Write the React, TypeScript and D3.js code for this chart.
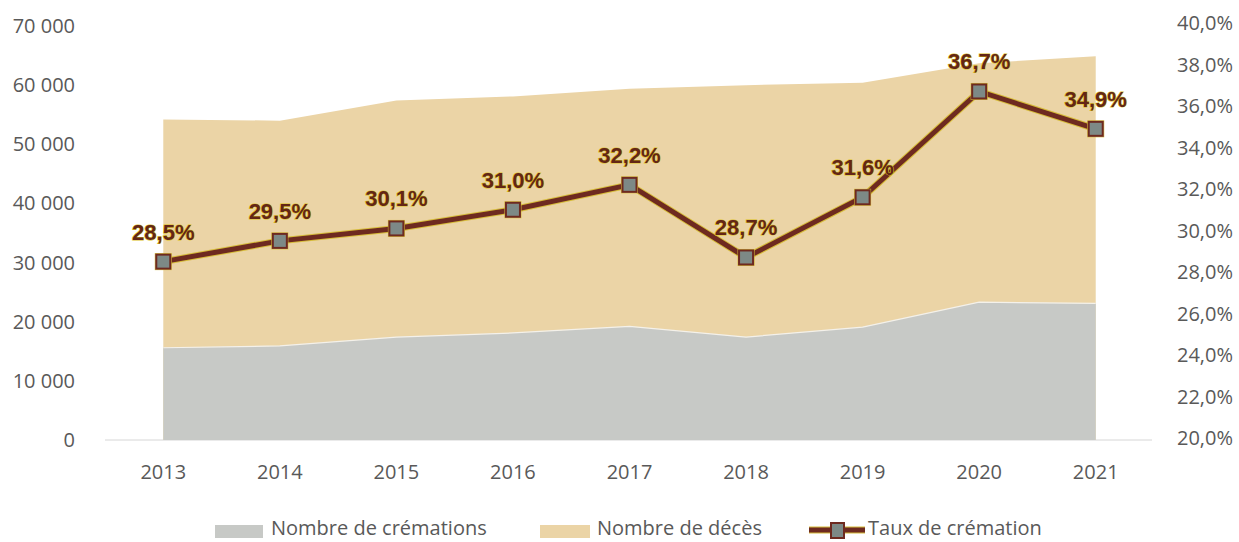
import React from "react";
import * as d3 from "d3";

const years = ["2013", "2014", "2015", "2016", "2017", "2018", "2019", "2020", "2021"];
const cremations = [15600, 15900, 17400, 18100, 19200, 17400, 19100, 23300, 23100];
const deces = [54200, 54000, 57400, 58100, 59400, 60000, 60400, 63700, 64900];
const taux = [28.5, 29.5, 30.1, 31.0, 32.2, 28.7, 31.6, 36.7, 34.9];
const leftTicks = [0, 10000, 20000, 30000, 40000, 50000, 60000, 70000];
const rightTicks = [20, 22, 24, 26, 28, 30, 32, 34, 36, 38, 40];
const legendLabels = ["Nombre de crémations", "Nombre de décès", "Taux de crémation"];

const W = 1239;
const H = 542;
const axisFont = "'Open Sans', sans-serif";
const TAN = "#ebd4a6";
const GREY = "#c7c9c6";
const MAROON = "#6e2a20";
const HALO = "#d6bc3a";

const fmtThousands = (v: number) => d3.format(",")(v).replace(/,/g, " ");
const fmtPct = (v: number) => v.toFixed(1).replace(".", ",") + "%";

export default function App() {
  const x = d3.scalePoint<string>().domain(years).range([105, 1154]).padding(0.5);
  const yL = d3.scaleLinear().domain([0, 70000]).range([440, 26]);
  const yR = d3.scaleLinear().domain([20, 40]).range([438, 23]);

  const idx = years.map((_, i) => i);
  const areaDeces = d3
    .area<number>()
    .x((i) => x(years[i])!)
    .y0(yL(0))
    .y1((i) => yL(deces[i]));
  const areaCrem = d3
    .area<number>()
    .x((i) => x(years[i])!)
    .y0(yL(0))
    .y1((i) => yL(cremations[i]));
  const cremTop = d3
    .line<number>()
    .x((i) => x(years[i])!)
    .y((i) => yL(cremations[i]));
  const rateLine = d3
    .line<number>()
    .x((i) => x(years[i])!)
    .y((i) => yR(taux[i]));

  const ms = 14;
  const legY = 535;

  return (
    <svg
      width={W}
      height={H}
      style={{ position: "absolute", left: 0, top: 0, background: "#ffffff" }}
    >
      {/* baseline */}
      <line x1={105} x2={1152} y1={yL(0)} y2={yL(0)} stroke="#d6d6d6" strokeWidth={1} />

      {/* areas */}
      <path d={areaDeces(idx)!} fill={TAN} />
      <path d={areaCrem(idx)!} fill={GREY} />
      <path d={cremTop(idx)!} fill="none" stroke="#f4f1ea" strokeWidth={1.2} />

      {/* left axis */}
      {leftTicks.map((t) => (
        <text
          key={"l" + t}
          x={75}
          y={yL(t) + 7}
          textAnchor="end"
          fontFamily={axisFont}
          fontSize={20}
          fill="#595959"
        >
          {fmtThousands(t)}
        </text>
      ))}

      {/* right axis */}
      {rightTicks.map((t) => (
        <text
          key={"r" + t}
          x={1177}
          y={yR(t) + 7}
          textAnchor="start"
          fontFamily={axisFont}
          fontSize={20}
          fill="#595959"
        >
          {fmtPct(t)}
        </text>
      ))}

      {/* x axis */}
      {years.map((yr) => (
        <text
          key={"x" + yr}
          x={x(yr)!}
          y={479}
          textAnchor="middle"
          fontFamily={axisFont}
          fontSize={20}
          fill="#595959"
        >
          {yr}
        </text>
      ))}

      {/* rate line */}
      <path d={rateLine(idx)!} fill="none" stroke={HALO} strokeWidth={7} strokeLinejoin="miter" />
      <path d={rateLine(idx)!} fill="none" stroke={MAROON} strokeWidth={5} strokeLinejoin="miter" />
      {idx.map((i) => (
        <g key={"m" + i}>
          <rect
            x={x(years[i])! - ms / 2 - 1}
            y={yR(taux[i]) - ms / 2 - 1}
            width={ms + 2}
            height={ms + 2}
            fill="none"
            stroke={HALO}
            strokeWidth={1}
          />
          <rect
            x={x(years[i])! - ms / 2}
            y={yR(taux[i]) - ms / 2}
            width={ms}
            height={ms}
            fill="#7d8986"
            stroke={MAROON}
            strokeWidth={2}
          />
        </g>
      ))}
      {idx.map((i) => (
        <text
          key={"lab" + i}
          x={x(years[i])!}
          y={yR(taux[i]) - 22}
          textAnchor="middle"
          fontFamily="'Liberation Sans', Arial, sans-serif"
          fontWeight="bold"
          fontSize={22}
          fill="#632616"
          stroke="#dcc21c"
          strokeWidth={1.1}
          paintOrder="stroke"
        >
          {fmtPct(taux[i])}
        </text>
      ))}

      {/* legend */}
      <rect x={215} y={legY - 10} width={48} height={13} fill={GREY} />
      <text x={271} y={legY} fontFamily={axisFont} fontSize={20} fill="#595959">
        {legendLabels[0]}
      </text>
      <rect x={540} y={legY - 10} width={50} height={13} fill={TAN} />
      <text x={597} y={legY} fontFamily={axisFont} fontSize={20} fill="#595959">
        {legendLabels[1]}
      </text>
      <line x1={809} x2={865} y1={legY - 5} y2={legY - 5} stroke={HALO} strokeWidth={7} />
      <line x1={809} x2={865} y1={legY - 5} y2={legY - 5} stroke={MAROON} strokeWidth={5} />
      <rect x={831} y={legY - 12} width={13} height={15} fill="#7d8986" stroke={MAROON} strokeWidth={2} />
      <text x={868} y={legY} fontFamily={axisFont} fontSize={20} fill="#595959">
        {legendLabels[2]}
      </text>
    </svg>
  );
}
